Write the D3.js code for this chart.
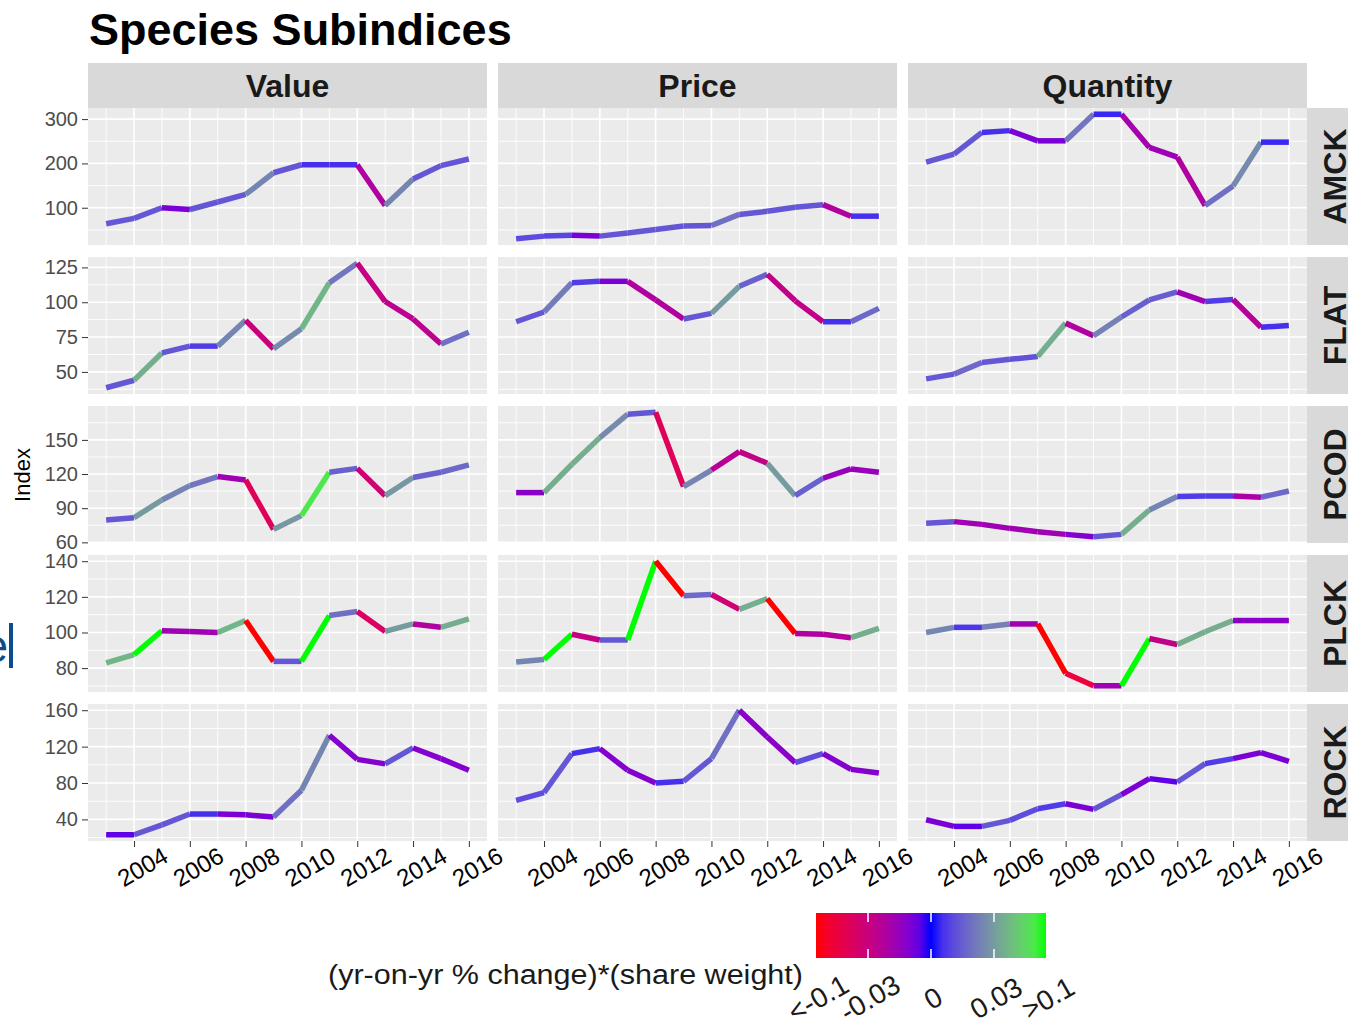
<!DOCTYPE html>
<html>
<head>
<meta charset="utf-8">
<script src="https://cdn.jsdelivr.net/npm/d3@7/dist/d3.min.js"></script>
<style>
  body { margin: 0; background: #fff; }
  svg { display: block; font-family: "Liberation Sans", Arial, sans-serif; }
</style>
</head>
<body>
<svg id="chart" width="1348" height="1027"></svg>
<script>
// ---- data ----
const years = [2003, 2004, 2005, 2006, 2007, 2008, 2009, 2010, 2011, 2012, 2013, 2014, 2015, 2016];
const xTicks = [2004, 2006, 2008, 2010, 2012, 2014, 2016];
const measures = ["Value", "Price", "Quantity"];
const species = ["AMCK", "FLAT", "PCOD", "PLCK", "ROCK"];

// index values per species, one array per measure
const valueAMCK    = [64, 76, 100, 96, 113, 130, 179, 197, 197, 197, 105, 165, 195, 210];
const priceAMCK    = [30, 36, 38, 36, 43, 51, 59, 60, 85, 92, 101, 107, 81, 81];
const quantityAMCK = [203, 221, 270, 274, 251, 251, 311, 311, 236, 214, 105, 149, 248, 248];

const valueFLAT    = [38.6, 44, 63.6, 68.5, 68.5, 87, 66.6, 81, 114, 128, 100.5, 88, 70, 78.4];
const priceFLAT    = [86, 93, 114, 115, 115, 101.7, 88, 92, 111.5, 120, 101, 86, 86, 95.6];
const quantityFLAT = [45, 48.4, 56.8, 59, 61, 85, 76, 89.4, 101.7, 107.4, 100.5, 102, 82, 83.3];

const valuePCOD    = [79.6, 81.7, 97.2, 109.8, 117.8, 114.8, 71.4, 83.5, 121.6, 125, 101, 117, 121.6, 128];
const pricePCOD    = [103.7, 103.7, 128.6, 152, 172.6, 174.3, 109, 123.5, 139.7, 129.5, 101, 116.3, 124.5, 121.6];
const quantityPCOD = [76.7, 78.2, 75.8, 72.3, 69.4, 67, 64.9, 67, 88.4, 100.2, 100.7, 100.7, 99.6, 105.1];

const valuePLCK    = [82.9, 87.6, 101, 100.6, 100, 106.7, 83.8, 83.8, 109.5, 111.8, 100.6, 104.8, 102.9, 107.6];
const pricePLCK    = [83.4, 84.8, 99, 95.8, 95.8, 140, 120.6, 121.3, 113, 119, 99.4, 99, 97.1, 102.3];
const quantityPLCK = [100, 102.9, 102.9, 104.8, 104.8, 77.1, 70.1, 70.1, 96.6, 93.3, 100.4, 106.7, 106.7, 106.7];

const valueROCK    = [23.1, 23.1, 34, 45.9, 45.9, 45, 42.6, 72, 132.5, 106, 101, 118.5, 106.8, 94];
const priceROCK    = [61, 69.4, 112.3, 117.8, 94, 80, 81.8, 106.8, 160, 130.6, 102.4, 112.3, 95, 91];
const quantityROCK = [39.6, 32.3, 32.3, 38.9, 51.7, 57.2, 51, 67.2, 84.8, 81.1, 101.3, 106.8, 113.4, 103.9];

// (yr-on-yr % change)*(share weight), one value per yearly segment
const valueAMCKChg    = [0.006, 0.006, -0.003, 0.006, 0.006, 0.02, 0.006, 0.001, 0.001, -0.016, 0.02, 0.006, 0.006];
const priceAMCKChg    = [0.004, 0.003, -0.003, 0.006, 0.006, 0.006, 0.006, 0.012, 0.006, 0.006, 0.006, -0.016, 0.001];
const quantityAMCKChg = [0.006, 0.006, 0.001, -0.003, -0.003, 0.014, 0.0005, -0.012, -0.009, -0.016, 0.012, 0.022, 0.0005];

const valueFLATChg    = [0.006, 0.04, 0.006, 0.002, 0.02, -0.03, 0.022, 0.045, 0.014, -0.028, -0.022, -0.022, 0.012];
const priceFLATChg    = [0.006, 0.016, 0.002, -0.003, -0.016, -0.016, 0.006, 0.03, 0.008, -0.025, -0.025, 0.001, 0.01];
const quantityFLATChg = [0.006, 0.01, 0.006, 0.005, 0.04, -0.016, 0.018, 0.008, 0.007, -0.01, 0.002, -0.018, 0.001];

const valuePCODChg    = [0.006, 0.03, 0.02, 0.014, -0.01, -0.05, 0.028, 0.08, 0.008, -0.035, 0.028, 0.008, 0.01];
const pricePCODChg    = [-0.005, 0.04, 0.04, 0.022, 0.006, -0.05, 0.02, -0.02, -0.025, 0.03, 0.008, -0.008, -0.008];
const quantityPCODChg = [0.006, -0.01, -0.01, -0.01, -0.01, -0.004, 0.006, 0.04, 0.02, 0.002, 0.002, -0.014, 0.01];

const valuePLCKChg    = [0.045, 0.1, -0.01, -0.01, 0.045, -0.1, 0.006, 0.1, 0.012, -0.045, 0.03, -0.016, 0.04];
const pricePLCKChg    = [0.02, 0.1, -0.028, 0.006, 0.1, -0.1, 0.01, -0.035, 0.04, -0.1, -0.016, -0.018, 0.04];
const quantityPLCKChg = [0.02, 0.0015, 0.018, -0.01, -0.1, -0.07, -0.01, 0.1, -0.025, 0.04, 0.04, -0.005, -0.005];

const valueROCKChg    = [-0.001, 0.006, 0.006, 0.001, -0.003, -0.003, 0.012, 0.02, -0.004, -0.004, 0.006, -0.004, -0.004];
const priceROCKChg    = [0.004, 0.006, 0.001, -0.004, -0.004, 0.001, 0.006, 0.012, -0.005, -0.005, 0.004, -0.004, -0.004];
const quantityROCKChg = [-0.003, -0.001, 0.006, 0.004, 0.002, -0.003, 0.006, -0.003, -0.001, 0.006, 0.002, -0.003, -0.003];

// y tick labels per row
const yTicksAMCK = [100, 200, 300];
const yTicksFLAT = [50, 75, 100, 125];
const yTicksPCOD = [60, 90, 120, 150];
const yTicksPLCK = [80, 100, 120, 140];
const yTicksROCK = [40, 80, 120, 160];

// legend
const legendBreaks = [-0.1, -0.03, 0, 0.03, 0.1];
const legendLabels = ["<-0.1", "-0.03", "0", "0.03", ">0.1"];

// ---- tables built from the arrays ----
const series = {
  AMCK: { Value: [valueAMCK, valueAMCKChg], Price: [priceAMCK, priceAMCKChg], Quantity: [quantityAMCK, quantityAMCKChg] },
  FLAT: { Value: [valueFLAT, valueFLATChg], Price: [priceFLAT, priceFLATChg], Quantity: [quantityFLAT, quantityFLATChg] },
  PCOD: { Value: [valuePCOD, valuePCODChg], Price: [pricePCOD, pricePCODChg], Quantity: [quantityPCOD, quantityPCODChg] },
  PLCK: { Value: [valuePLCK, valuePLCKChg], Price: [pricePLCK, pricePLCKChg], Quantity: [quantityPLCK, quantityPLCKChg] },
  ROCK: { Value: [valueROCK, valueROCKChg], Price: [priceROCK, priceROCKChg], Quantity: [quantityROCK, quantityROCKChg] }
};
const yTicks = { AMCK: yTicksAMCK, FLAT: yTicksFLAT, PCOD: yTicksPCOD, PLCK: yTicksPLCK, ROCK: yTicksROCK };

// ---- layout ----
const panelLeft = [88, 498, 908];
const panelW = 399;
const rowTop = [108, 257, 406, 555, 704];
const panelH = 137;
const stripTop = 63, stripH = 45;
const stripRightX = 1307, stripRightW = 45;

const svg = d3.select("#chart");

// colour: signed sqrt transform, Lab interpolation red -> blue -> green
const signedSqrt = v => Math.sign(v) * Math.sqrt(Math.min(Math.abs(v), 0.1) / 0.1);
const colourPos = d3.scaleLinear().domain([-1, 0, 1])
  .range(["#ff0000", "#0000ff", "#00ff00"])
  .interpolate(d3.interpolateLab);
const colour = v => colourPos(signedSqrt(v));

const x = d3.scaleLinear().domain([2003 - 0.65, 2016 + 0.65]).range([0, panelW]);

// title
svg.append("text")
  .attr("x", 89).attr("y", 45)
  .attr("font-size", 45).attr("font-weight", "bold").attr("fill", "#000")
  .text("Species Subindices");

// column strips
measures.forEach((m, c) => {
  svg.append("rect")
    .attr("x", panelLeft[c]).attr("y", stripTop)
    .attr("width", panelW).attr("height", stripH)
    .attr("fill", "#d9d9d9");
  svg.append("text")
    .attr("x", panelLeft[c] + panelW / 2).attr("y", stripTop + stripH / 2)
    .attr("dy", "0.36em")
    .attr("text-anchor", "middle")
    .attr("font-size", 32).attr("font-weight", "bold").attr("fill", "#1a1a1a")
    .text(m);
});

species.forEach((sp, r) => {
  const allVals = measures.flatMap(m => series[sp][m][0]);
  const lo = d3.min(allVals), hi = d3.max(allVals);
  const pad = (hi - lo) * 0.05;
  const y = d3.scaleLinear().domain([lo - pad, hi + pad]).range([panelH, 0]);

  const ticks = yTicks[sp];
  const step = ticks[1] - ticks[0];
  const yMinor = [ticks[0] - step / 2, ...d3.pairs(ticks).map(([a, b]) => (a + b) / 2), ticks[ticks.length - 1] + step / 2]
    .filter(v => v >= y.domain()[0] && v <= y.domain()[1]);
  const xMinor = xTicks.map(t => t - 1);

  // row strip
  svg.append("rect")
    .attr("x", stripRightX).attr("y", rowTop[r])
    .attr("width", stripRightW).attr("height", panelH)
    .attr("fill", "#d9d9d9");
  svg.append("text")
    .attr("transform", `translate(${stripRightX + 27},${rowTop[r] + panelH / 2}) rotate(-90)`)
    .attr("dy", "0.36em")
    .attr("text-anchor", "middle")
    .attr("font-size", 32).attr("font-weight", "bold").attr("fill", "#1a1a1a")
    .text(sp);

  measures.forEach((m, c) => {
    const g = svg.append("g").attr("transform", `translate(${panelLeft[c]},${rowTop[r]})`);
    g.append("rect").attr("width", panelW).attr("height", panelH).attr("fill", "#ebebeb");

    // grid
    g.selectAll(".hmin").data(yMinor).join("line")
      .attr("x1", 0).attr("x2", panelW).attr("y1", d => y(d)).attr("y2", d => y(d))
      .attr("stroke", "#fff").attr("stroke-width", 0.9);
    g.selectAll(".vmin").data(xMinor).join("line")
      .attr("y1", 0).attr("y2", panelH).attr("x1", d => x(d)).attr("x2", d => x(d))
      .attr("stroke", "#fff").attr("stroke-width", 0.9);
    g.selectAll(".hmaj").data(ticks).join("line")
      .attr("x1", 0).attr("x2", panelW).attr("y1", d => y(d)).attr("y2", d => y(d))
      .attr("stroke", "#fff").attr("stroke-width", 1.6);
    g.selectAll(".vmaj").data(xTicks).join("line")
      .attr("y1", 0).attr("y2", panelH).attr("x1", d => x(d)).attr("x2", d => x(d))
      .attr("stroke", "#fff").attr("stroke-width", 1.6);

    // coloured segments
    const [vals, chg] = series[sp][m];
    const pts = years.map((yr, i) => [yr, vals[i]]);
    const segs = d3.pairs(pts).map((p, i) => ({ p, c: chg[i] }));
    g.selectAll(".seg").data(segs).join("line")
      .attr("x1", d => x(d.p[0][0])).attr("y1", d => y(d.p[0][1]))
      .attr("x2", d => x(d.p[1][0])).attr("y2", d => y(d.p[1][1]))
      .attr("stroke", d => colour(d.c))
      .attr("stroke-width", 5.5)
      .attr("stroke-linecap", "butt");

    // y axis on first column
    if (c === 0) {
      const ax = g.append("g").call(d3.axisLeft(y).tickValues(ticks).tickSize(6).tickPadding(4));
      ax.select(".domain").remove();
      ax.selectAll(".tick line").attr("stroke", "#333");
      ax.selectAll(".tick text")
        .attr("font-size", 20).attr("fill", "#4d4d4d")
        .attr("font-family", "Liberation Sans, Arial, sans-serif");
    }
    // x axis on bottom row
    if (r === species.length - 1) {
      const ax = g.append("g").attr("transform", `translate(0,${panelH})`)
        .call(d3.axisBottom(x).tickValues(xTicks).tickFormat(d3.format("d")).tickSize(6));
      ax.select(".domain").remove();
      ax.selectAll(".tick line").attr("stroke", "#333");
      ax.selectAll(".tick text")
        .attr("y", 0).attr("dy", "0.35em")
        .attr("transform", "translate(8,26) rotate(-30)")
        .attr("text-anchor", "middle")
        .attr("font-size", 24).attr("fill", "#000")
        .attr("font-family", "Liberation Sans, Arial, sans-serif");
    }
  });
});

// y title
svg.append("text")
  .attr("transform", "translate(30,475) rotate(-90)")
  .attr("text-anchor", "middle")
  .attr("font-size", 22).attr("fill", "#000")
  .text("Index");

// stray fragment at the left edge
svg.append("text")
  .attr("x", 8).attr("y", 662)
  .attr("text-anchor", "end")
  .attr("font-size", 46).attr("fill", "#0b4d8c")
  .text("e");
svg.append("rect")
  .attr("x", 9).attr("y", 623).attr("width", 4).attr("height", 45)
  .attr("fill", "#0b4d8c");

// ---- legend ----
const legX0 = 816, legX1 = 1046, legY = 913, legH = 45;
const legPos = d3.scaleLinear().domain([-1, 1]).range([legX0, legX1]);
const grad = svg.append("defs").append("linearGradient")
  .attr("id", "legGrad").attr("x1", "0%").attr("x2", "100%");
grad.selectAll("stop").data(d3.range(0, 1.0001, 0.05)).join("stop")
  .attr("offset", d => `${d * 100}%`)
  .attr("stop-color", d => colourPos(d * 2 - 1));
svg.append("rect")
  .attr("x", legX0).attr("y", legY).attr("width", legX1 - legX0).attr("height", legH)
  .attr("fill", "url(#legGrad)");
const innerBreaks = legendBreaks.slice(1, -1);
svg.selectAll(".legTickTop").data(innerBreaks).join("line")
  .attr("x1", d => legPos(signedSqrt(d))).attr("x2", d => legPos(signedSqrt(d)))
  .attr("y1", legY).attr("y2", legY + 9)
  .attr("stroke", "#fff").attr("stroke-width", 1.5);
svg.selectAll(".legTickBot").data(innerBreaks).join("line")
  .attr("x1", d => legPos(signedSqrt(d))).attr("x2", d => legPos(signedSqrt(d)))
  .attr("y1", legY + legH - 9).attr("y2", legY + legH)
  .attr("stroke", "#fff").attr("stroke-width", 1.5);
svg.selectAll(".legLab").data(legendBreaks).join("text")
  .attr("transform", d => `translate(${legPos(signedSqrt(d)) + 2},${998}) rotate(-30)`)
  .attr("dy", "0.35em")
  .attr("text-anchor", "middle")
  .attr("font-size", 28).attr("fill", "#1a1a1a")
  .text((d, i) => legendLabels[i]);

svg.append("text")
  .attr("x", 328).attr("y", 984)
  .attr("font-size", 27).attr("fill", "#1a1a1a")
  .attr("textLength", 475).attr("lengthAdjust", "spacingAndGlyphs")
  .text("(yr-on-yr % change)*(share weight)");
</script>
</body>
</html>
